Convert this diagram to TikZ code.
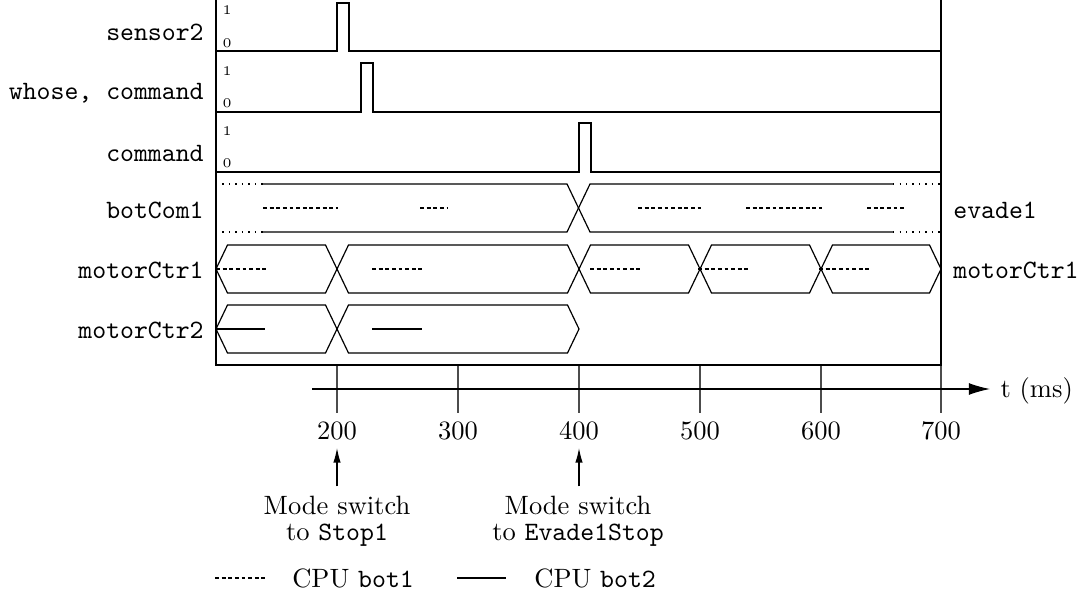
\documentclass[tikz,border=0pt]{standalone}
\usetikzlibrary{arrows.meta}
\begin{document}
\begin{tikzpicture}[x=0.3774pt,y=-0.3774pt,
  sig/.style={line width=0.45pt},
  bus/.style={line width=0.45pt},
  frame/.style={line width=0.85pt},
  tickl/.style={line width=0.45pt,black!70},
  bot1/.style={line width=0.75pt,dash pattern=on 1.5pt off 1pt},
  bot2/.style={line width=0.75pt},
  lab/.style={font=\ttfamily,anchor=east},
  rlab/.style={font=\ttfamily,anchor=west},
  lvl/.style={font=\fontsize{5}{6}\selectfont,anchor=west,inner sep=0pt},
  num/.style={anchor=center},
  txt/.style={anchor=base}]
\useasboundingbox (0,0) rectangle (1080,602);
\newcommand{\hexseg}[4]{\draw[bus] (#1,#3+24) -- (#1+11.5,#3) -- (#2-11.5,#3) -- (#2,#3+24) -- (#2-11.5,#3+48) -- (#1+11.5,#3+48) -- cycle;}
% row labels
\node[lab] (l1) at (213,32) {sensor2};
\node[lab] (l2) at (213,93) {whose, command};
\node[lab] (l3) at (213,153) {command};
\node[lab] (l4) at (213,210) {botCom1};
\node[lab] (l5) at (213,270) {motorCtr1};
\node[lab] (l6) at (213,330) {motorCtr2};
\node[rlab] (r4) at (944,210) {evade1};
\node[rlab] (r5) at (944,270) {motorCtr1};
% level labels
\node[lvl] (a1) at (222,10) {1};
\node[lvl] (a0) at (222,43) {0};
\node[lvl] (b1) at (222,71) {1};
\node[lvl] (b0) at (222,103) {0};
\node[lvl] (c1) at (222,131) {1};
\node[lvl] (c0) at (222,163) {0};
% signals
\draw[sig] (216,51) -- (337,51) -- (337,3) -- (349,3) -- (349,51) -- (941,51);
\draw[sig] (216,112) -- (361,112) -- (361,63) -- (373,63) -- (373,112) -- (941,112);
\draw[sig] (216,172) -- (579,172) -- (579,123) -- (591,123) -- (591,172) -- (941,172);
% botCom1 bus
\draw[bus,dotted] (216,184) -- (263,184);
\draw[bus,dotted] (216,232) -- (263,232);
\draw[bus] (263,184) -- (567,184) -- (590,232) -- (893,232);
\draw[bus] (263,232) -- (567,232) -- (590,184) -- (893,184);
\draw[bus,dotted] (893,184) -- (941,184);
\draw[bus,dotted] (893,232) -- (941,232);
\draw[bot1] (263,208) -- (338,208);
\draw[bot1] (420,208) -- (447,208);
\draw[bot1] (638,208) -- (701,208);
\draw[bot1] (746,208) -- (822,208);
\draw[bot1] (867,208) -- (906,208);
% motorCtr1
\hexseg{216}{337}{245}{}
\hexseg{337}{579}{245}{}
\hexseg{579}{700}{245}{}
\hexseg{700}{821}{245}{}
\hexseg{821}{941}{245}{}
\draw[bot1] (216,269) -- (266,269);
\draw[bot1] (372,269) -- (423,269);
\draw[bot1] (590,269) -- (641,269);
\draw[bot1] (698,269) -- (749,269);
\draw[bot1] (819,269) -- (870,269);
% motorCtr2
\hexseg{216}{337}{305}{}
\hexseg{337}{579}{305}{}
\draw[bot2] (216,329) -- (265,329);
\draw[bot2] (372,329) -- (422,329);
% ticks
\foreach \x/\t in {337/200,458/300,579/400,700/500,821/600,941/700}{
  \draw[tickl] (\x,365) -- (\x,413);
  \node[num] (n\t) at (\x,431) {\t};
}
% frame
\draw[frame] (216,0) -- (216,365) -- (941,365) -- (941,0);
% time axis
\coordinate (ax0) at (312,389);
\coordinate (ax1) at (990,389);
\draw[line width=0.45pt,-{Latex[length=8pt,width=4.5pt]}] (ax0) -- (ax1);
\node[anchor=west,inner sep=0pt] (tl) at (1000,391) {t (ms)};
% mode switches
\node[txt] (m1) at (337,514) {Mode switch};
\node[txt] (m1b) at (337,540) {to \texttt{Stop1}};
\node[txt] (m2) at (578,514) {Mode switch};
\node[txt] (m2b) at (578,540) {to \texttt{Evade1Stop}};
\coordinate (m1t) at (337,448);
\coordinate (m2t) at (579,448);
\draw[line width=0.45pt,-{Latex[length=5.5pt,width=2.8pt]}] (m1.north -| m1t) -- (m1t);
\draw[line width=0.45pt,-{Latex[length=5.5pt,width=2.8pt]}] (m2.north -| m2t) -- (m2t);
% legend
\coordinate (d0) at (215,578);
\coordinate (d1) at (265,578);
\coordinate (s0) at (457,578);
\coordinate (s1) at (506,578);
\draw[bot1] (d0) -- (d1);
\draw[bot2] (s0) -- (s1);
\node[anchor=west] (c1l) at (283,578) {CPU \texttt{bot1}};
\node[anchor=west] (c2l) at (525,578) {CPU \texttt{bot2}};
\end{tikzpicture}
\end{document}
